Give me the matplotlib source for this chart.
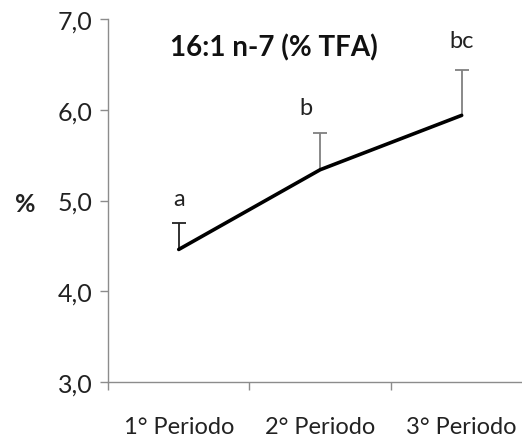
import matplotlib
matplotlib.use("Agg")
import matplotlib.pyplot as plt

periods = ["1° Periodo", "2° Periodo", "3° Periodo"]
means = [4.46, 5.34, 5.94]
sd_up = [0.29, 0.40, 0.50]
letters = ["a", "b", "bc"]
y_ticks = [3.0, 4.0, 5.0, 6.0, 7.0]
y_tick_labels = ["3,0", "4,0", "5,0", "6,0", "7,0"]

plt.rcParams['font.family'] = ['Lato', 'DejaVu Sans']
axis_grey = "#8c8c8c"

fig = plt.figure(figsize=(5.22, 4.39), dpi=100)
ax = fig.add_axes([0.2069, 0.1282, 0.813, 0.8255])

x = [1, 2, 3]
ax.plot(x, means, color="black", linewidth=2.6, solid_capstyle="round", zorder=3)

# upper error bars only: stem plus a cap at the top
bar_colors = ["#222222", "#808080", "#808080"]
tops = [m + e for m, e in zip(means, sd_up)]
for xi, m, t, c in zip(x, means, tops, bar_colors):
    ax.vlines(xi, m, t, colors=c, linewidth=1.3, zorder=2)
    ax.plot([xi], [t], marker="_", markersize=10, markeredgewidth=1.3, color=c, zorder=2)

# significance letters above the bars
letter_dx = [0, -10, 0]
letter_dy = [18, 19, 21]
for xi, t, lab, dx, dy in zip(x, tops, letters, letter_dx, letter_dy):
    ax.annotate(lab, (xi, t), xytext=(dx, dy), textcoords="offset points",
                ha="center", va="center", fontsize=17, color="#222222")

ax.text(1.67, 6.70, "16:1 n-7 (% TFA)", ha="center", va="center",
        fontsize=20, fontweight="bold", color="#111111")

ax.set_xlim(0.5, 3.5)
ax.set_ylim(3.0, 7.0)
ax.set_yticks(y_ticks)
ax.set_yticklabels(y_tick_labels)
ax.set_xticks([0.5, 1.5, 2.5, 3.5])
ax.set_xticklabels([])
ax.set_xticks(x, minor=True)
ax.set_xticklabels(periods, minor=True)
ax.tick_params(axis="x", which="minor", length=0, pad=25, labelsize=17, labelcolor="#222222")
ax.tick_params(axis="x", which="major", length=6, width=1, color=axis_grey)
ax.tick_params(axis="y", length=6, width=1, color=axis_grey, labelsize=18,
               labelcolor="#222222", pad=5)

for side in ["top", "right"]:
    ax.spines[side].set_visible(False)
for side in ["left", "bottom"]:
    ax.spines[side].set_color(axis_grey)
    ax.spines[side].set_linewidth(1)

fig.text(25 / 522, 1 - 205 / 439, "%", ha="center", va="center",
         fontsize=18, fontweight="bold", color="#222222")

fig.savefig("out.png", dpi=100)
